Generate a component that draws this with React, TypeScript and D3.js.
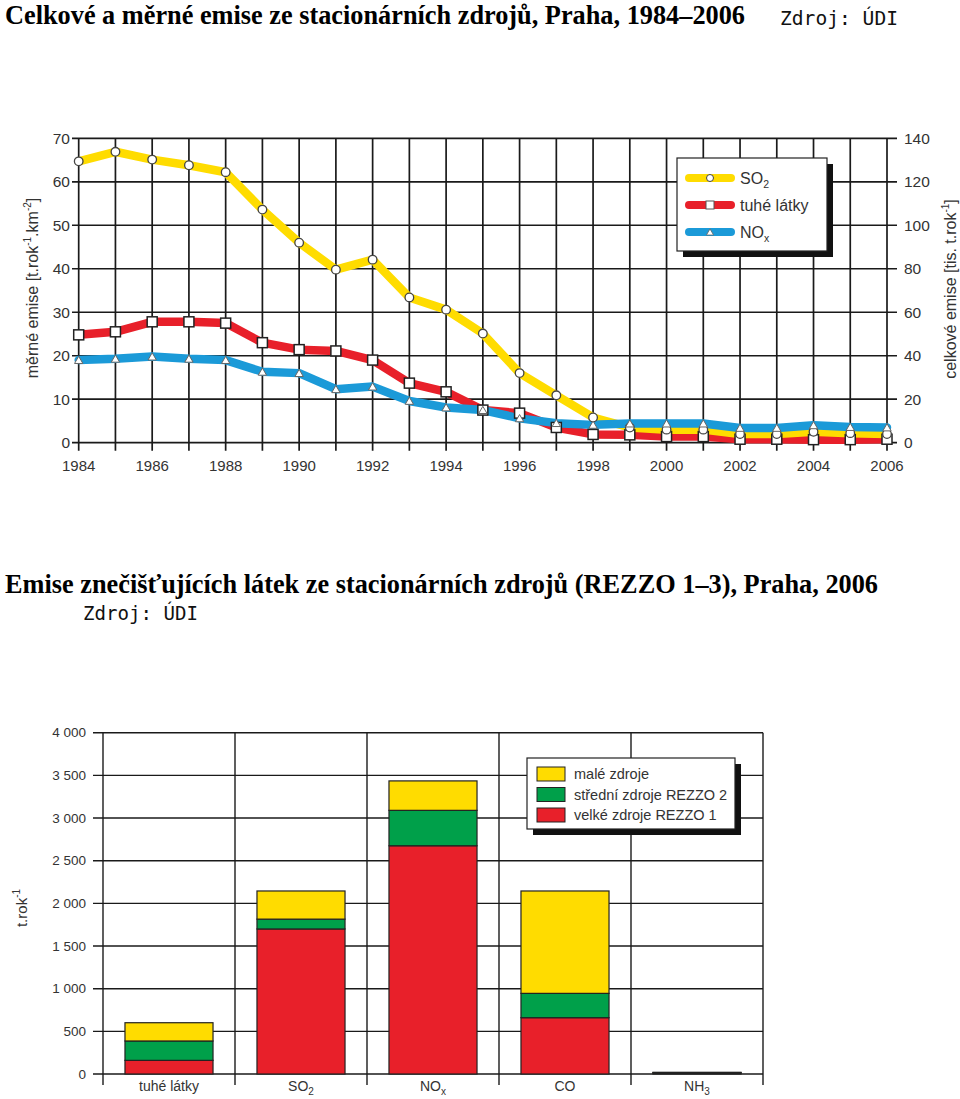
import React from 'react';
import * as d3 from 'd3';

// ---------- Top chart data ----------
const years = [1984, 1985, 1986, 1987, 1988, 1989, 1990, 1991, 1992, 1993, 1994, 1995, 1996, 1997, 1998, 1999, 2000, 2001, 2002, 2003, 2004, 2005, 2006];
const so2 = [64.7, 66.9, 65.1, 63.8, 62.2, 53.6, 46.0, 39.8, 42.1, 33.4, 30.6, 25.1, 16.0, 10.9, 5.8, 3.5, 3.0, 3.0, 2.0, 2.0, 2.5, 2.2, 2.0];
const tuhe = [24.8, 25.5, 27.8, 27.8, 27.5, 23.0, 21.4, 21.1, 19.0, 13.7, 11.7, 7.5, 6.8, 3.5, 1.9, 1.8, 1.4, 1.4, 0.8, 0.8, 0.7, 0.7, 0.8];
const nox = [19.0, 19.3, 19.8, 19.3, 19.0, 16.3, 16.0, 12.3, 12.9, 9.6, 8.1, 7.5, 5.6, 4.5, 4.1, 4.4, 4.4, 4.4, 3.4, 3.4, 4.0, 3.6, 3.5];
const leftTicks = [0, 10, 20, 30, 40, 50, 60, 70];
const rightTicks = [0, 20, 40, 60, 80, 100, 120, 140];
const yearLabels = [1984, 1986, 1988, 1990, 1992, 1994, 1996, 1998, 2000, 2002, 2004, 2006];

// ---------- Bottom chart data ----------
const categories = ['tuhé látky', 'SO2', 'NOx', 'CO', 'NH3'];
const velke = [160, 1700, 2675, 660, 12];
const stredni = [227, 115, 415, 285, 3];
const male = [214, 330, 345, 1200, 5];
const barTicks = [0, 500, 1000, 1500, 2000, 2500, 3000, 3500, 4000];

const YELLOW = '#FFDC00';
const RED = '#E8202A';
const BLUE = '#1B9AD8';
const GREEN = '#00A04A';
const GRID = '#1a1a1a';
const TXT = '#333';
const SANS = '"Liberation Sans", Arial, Helvetica, sans-serif';
const SERIF = '"Liberation Serif", "Times New Roman", serif';
const MONO = '"DejaVu Sans Mono", monospace';

const fmt = d3.formatLocale({ decimal: ',', thousands: ' ', grouping: [3], currency: ['', ''] }).format(',');

function CatLabel({ name, x, y }: { name: string; x: number; y: number }) {
  const m = name.match(/^([A-Z]+)([0-9x])$/);
  if (!m) {
    return <text x={x} y={y} textAnchor="middle" fontSize={14} fill={TXT} fontFamily={SANS}>{name}</text>;
  }
  return (
    <text x={x} y={y} textAnchor="middle" fontSize={14} fill={TXT} fontFamily={SANS}>
      {m[1]}<tspan fontSize={10} dy={4}>{m[2]}</tspan>
    </text>
  );
}

export default function App() {
  // Top chart scales
  const x = d3.scaleLinear().domain([1984, 2006]).range([78.7, 887]);
  const yL = d3.scaleLinear().domain([0, 70]).range([442.7, 138.3]);
  const yR = d3.scaleLinear().domain([0, 140]).range([442.7, 138.3]);
  const line = d3.line<number>().x((_, i) => x(years[i])).y(d => yL(d));

  const series = [
    { key: 'tuhe', data: tuhe, color: RED },
    { key: 'so2', data: so2, color: YELLOW },
    { key: 'nox', data: nox, color: BLUE },
  ];

  const tri = d3.symbol().type(d3.symbolTriangle).size(30)() as string;

  const marker = (key: string, cx: number, cy: number, k: string | number) => {
    if (key === 'so2') return <circle key={k} cx={cx} cy={cy} r={4.3} fill="#fff" stroke="#444" strokeWidth={1.3} />;
    if (key === 'tuhe') return <rect key={k} x={cx - 5} y={cy - 5} width={10} height={10} fill="#fff" stroke="#222" strokeWidth={1.5} />;
    return <path key={k} d={tri} transform={`translate(${cx},${cy + 1})`} fill="#fff" stroke="#666" strokeWidth={1} />;
  };

  // Bottom chart scales
  const xb = d3.scaleBand<string>().domain(categories).range([103, 763]).paddingInner(0).paddingOuter(0);
  const yb = d3.scaleLinear().domain([0, 4000]).range([1074, 732.7]);
  const bw = xb.bandwidth() * 0.667;
  const stacked = d3.stack<number>().keys(['v', 's', 'm']).value((i, k) => (k === 'v' ? velke[i] : k === 's' ? stredni[i] : male[i]))(categories.map((_, i) => i) as any);
  const stackColors = [RED, GREEN, YELLOW];

  return (
    <svg width={960} height={1099} style={{ position: 'absolute', left: 0, top: 0, background: '#fff' }} fontFamily={SANS}>
      {/* Titles */}
      <text x={5} y={24} fontFamily={SERIF} fontWeight="bold" fontSize={27} textLength={740} lengthAdjust="spacingAndGlyphs">Celkové a měrné emise ze stacionárních zdrojů, Praha, 1984–2006</text>
      <text x={780} y={25} fontFamily={MONO} fontSize={19.5} textLength={118} lengthAdjust="spacingAndGlyphs" fill="#111">Zdroj: ÚDI</text>

      {/* ---------- Top chart ---------- */}
      <g>
        {leftTicks.map(t => (
          <line key={'h' + t} x1={72} x2={897} y1={yL(t)} y2={yL(t)} stroke={GRID} strokeWidth={1.7} />
        ))}
        {years.map(yr => (
          <line key={'v' + yr} x1={x(yr)} x2={x(yr)} y1={yL(70)} y2={yL(0) + 8} stroke={GRID} strokeWidth={1.7} />
        ))}
        {leftTicks.map(t => (
          <text key={'lt' + t} x={70} y={yL(t) + 5.5} textAnchor="end" fontSize={15.5} fill={TXT}>{t}</text>
        ))}
        {rightTicks.map(t => (
          <text key={'rt' + t} x={904} y={yR(t) + 5.5} textAnchor="start" fontSize={15.5} fill={TXT}>{t}</text>
        ))}
        {yearLabels.map(yr => (
          <text key={'yl' + yr} x={x(yr)} y={471} textAnchor="middle" fontSize={15} fill={TXT}>{yr}</text>
        ))}
        <text transform="translate(38,288) rotate(-90)" textAnchor="middle" fontSize={16} fill={TXT}>
          měrné emise [t.rok<tspan fontSize={10} dy={-7}>-1</tspan><tspan dy={7}>.km</tspan><tspan fontSize={10} dy={-7}>-2</tspan><tspan dy={7}>]</tspan>
        </text>
        <text transform="translate(956,289) rotate(-90)" textAnchor="middle" fontSize={16} fill={TXT}>
          celkové emise [tis. t.rok<tspan fontSize={10} dy={-7}>-1</tspan><tspan dy={7}>]</tspan>
        </text>

        {series.map(s => (
          <path key={s.key} d={line(s.data) as string} fill="none" stroke={s.color} strokeWidth={8.5} strokeLinejoin="round" strokeLinecap="round" />
        ))}
        {series.map(s => s.data.map((d, i) => marker(s.key, x(years[i]), yL(d), s.key + i)))}

        {/* Legend */}
        <rect x={683} y={164} width={150} height={93} fill="#111" />
        <rect x={677} y={158} width={150} height={93} fill="#fff" stroke="#222" strokeWidth={1.2} />
        {[
          { key: 'so2', color: YELLOW, y: 178, label: 'SO', sub: '2' },
          { key: 'tuhe', color: RED, y: 205, label: 'tuhé látky', sub: '' },
          { key: 'nox', color: BLUE, y: 232, label: 'NO', sub: 'x' },
        ].map(l => (
          <g key={'lg' + l.key}>
            <line x1={689} x2={731} y1={l.y} y2={l.y} stroke={l.color} strokeWidth={8} strokeLinecap="round" />
            {l.key === 'so2' ? <circle cx={710} cy={l.y} r={3.5} fill="#fff" stroke="#444" strokeWidth={1} />
              : l.key === 'tuhe' ? <rect x={706} y={l.y - 4} width={8} height={8} fill="#fff" stroke="#555" strokeWidth={1} />
                : <path d={d3.symbol().type(d3.symbolTriangle).size(22)() as string} transform={`translate(710,${l.y + 1})`} fill="#fff" stroke="#666" strokeWidth={0.8} />}
            <text x={740} y={l.y + 5.5} fontSize={16} fill={TXT}>
              {l.label}{l.sub && <tspan fontSize={10.5} dy={4}>{l.sub}</tspan>}
            </text>
          </g>
        ))}
      </g>

      {/* Second title */}
      <text x={5} y={593} fontFamily={SERIF} fontWeight="bold" fontSize={27} textLength={873} lengthAdjust="spacingAndGlyphs">Emise znečišťujících látek ze stacionárních zdrojů (REZZO 1–3), Praha, 2006</text>
      <text x={83} y={620} fontFamily={MONO} fontSize={19.5} textLength={115} lengthAdjust="spacingAndGlyphs" fill="#111">Zdroj: ÚDI</text>

      {/* ---------- Bottom chart ---------- */}
      <g>
        {barTicks.map(t => (
          <line key={'bh' + t} x1={93} x2={763} y1={yb(t)} y2={yb(t)} stroke={GRID} strokeWidth={1.4} />
        ))}
        {[...categories.map(c => xb(c) as number), 763].map((bx, i) => (
          <line key={'bv' + i} x1={bx} x2={bx} y1={yb(4000)} y2={1085} stroke={GRID} strokeWidth={1.4} />
        ))}
        {barTicks.map(t => (
          <text key={'bt' + t} x={86} y={yb(t) + 4.5} textAnchor="end" fontSize={13.5} fill={TXT}>{fmt(t)}</text>
        ))}
        <text transform="translate(27,908) rotate(-90)" textAnchor="middle" fontSize={15} fill={TXT}>
          t.rok<tspan fontSize={10} dy={-7}>-1</tspan>
        </text>

        {stacked.map((layer, li) => layer.map((d, i) => {
          const c = categories[i];
          const bx = (xb(c) as number) + (xb.bandwidth() - bw) / 2;
          return (
            <rect key={'b' + li + '-' + i} x={bx} y={yb(d[1])} width={bw} height={Math.max(0, yb(d[0]) - yb(d[1]))}
              fill={stackColors[li]} stroke="#222" strokeWidth={1.2} />
          );
        }))}

        {categories.map(c => (
          <CatLabel key={'cl' + c} name={c} x={(xb(c) as number) + xb.bandwidth() / 2} y={1091} />
        ))}

        {/* Legend */}
        <rect x={533} y={764} width={208} height={71} fill="#111" />
        <rect x={527} y={758} width={208} height={71} fill="#fff" stroke="#222" strokeWidth={1.2} />
        {[
          { color: YELLOW, label: 'malé zdroje' },
          { color: GREEN, label: 'střední zdroje REZZO 2' },
          { color: RED, label: 'velké zdroje REZZO 1' },
        ].map((l, i) => (
          <g key={'bl' + i}>
            <rect x={537} y={767 + i * 20.5} width={28} height={14} fill={l.color} stroke="#222" strokeWidth={1} />
            <text x={574} y={779 + i * 20.5} fontSize={14.5} fill={TXT}>{l.label}</text>
          </g>
        ))}
      </g>
    </svg>
  );
}
